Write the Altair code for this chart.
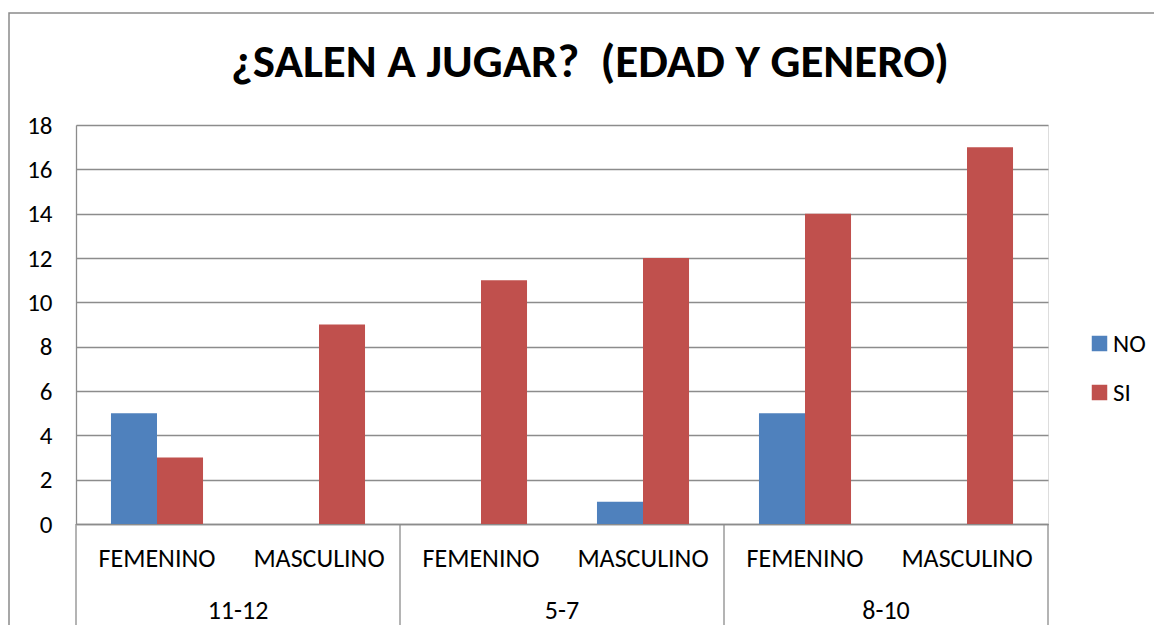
import altair as alt
import pandas as pd

ages = ["11-12", "5-7", "8-10"]
genders = ["FEMENINO", "MASCULINO"]
series = ["NO", "SI"]
no_values = [5, 0, 0, 1, 5, 0]
si_values = [3, 9, 11, 12, 14, 17]
y_ticks = [0, 2, 4, 6, 8, 10, 12, 14, 16, 18]
colors = ["#4F81BD", "#C0504D"]
title_text = "¿SALEN A JUGAR?\u00a0 (EDAD Y GENERO)"

FONT = "Carlito, Lato, sans-serif"
GRID = "#8c8c8c"
W, H = 972, 399

keys = [f"{a}|{g}" for a in ages for g in genders]
rows = []
for i, k in enumerate(keys):
    a, g = k.split("|")
    rows.append({"key": k, "age": a, "gender": g, "serie": "NO", "value": no_values[i]})
    rows.append({"key": k, "age": a, "gender": g, "serie": "SI", "value": si_values[i]})
df = pd.DataFrame(rows)

xscale = alt.Scale(domain=keys, paddingInner=0, paddingOuter=0)

bars = alt.Chart(df).mark_bar(stroke=None).encode(
    x=alt.X("key:N", scale=xscale, sort=keys,
            axis=alt.Axis(labels=False, ticks=False, title=None, domainColor=GRID, domainWidth=1.3)),
    xOffset=alt.XOffset("serie:N", sort=series,
                        scale=alt.Scale(domain=series, paddingInner=0, paddingOuter=0.76)),
    y=alt.Y("value:Q", scale=alt.Scale(domain=[0, 18], nice=False),
            axis=alt.Axis(values=y_ticks, title=None, ticks=False, grid=True,
                          gridColor=GRID, gridWidth=1.3, domainColor=GRID, domainWidth=1.3,
                          labelFont=FONT, labelFontSize=25, labelColor="#000000",
                          labelPadding=24)),
    color=alt.Color("serie:N", scale=alt.Scale(domain=series, range=colors),
                    legend=alt.Legend(title=None, orient="none", legendX=1011, legendY=206,
                                      symbolType="square", symbolSize=240, symbolStrokeWidth=0,
                                      labelFont=FONT, labelFontSize=25, labelColor="#000000",
                                      rowPadding=23, labelOffset=1)),
)

gdf = pd.DataFrame({"key": keys, "gender": [k.split("|")[1] for k in keys]})
gender_text = alt.Chart(gdf).mark_text(font=FONT, fontSize=26, baseline="middle", color="#000000").encode(
    x=alt.X("key:N", scale=xscale, sort=keys),
    y=alt.value(H + 35),
    text="gender:N",
)

adf = pd.DataFrame({"key": [f"{a}|{genders[1]}" for a in ages], "age": ages})
age_text = alt.Chart(adf).mark_text(font=FONT, fontSize=26, baseline="middle", color="#000000").encode(
    x=alt.X("key:N", scale=xscale, sort=keys, bandPosition=0),
    y=alt.value(H + 87),
    text="age:N",
)

sdf = pd.DataFrame({"key": [f"{a}|{genders[0]}" for a in ages]})
seps = alt.Chart(sdf).mark_rule(color=GRID, strokeWidth=1.3).encode(
    x=alt.X("key:N", scale=xscale, sort=keys, bandPosition=0),
    y=alt.value(H),
    y2=alt.value(H + 120),
)
edf = pd.DataFrame({"key": [keys[-1]]})
sep_end = alt.Chart(edf).mark_rule(color=GRID, strokeWidth=1.3).encode(
    x=alt.X("key:N", scale=xscale, sort=keys, bandPosition=1),
    y=alt.value(H),
    y2=alt.value(H + 120),
)

frame = alt.Chart(pd.DataFrame({"f": [0]})).mark_rect(
    fill="transparent", stroke="#8a8a8a", strokeWidth=1.5
).encode(
    x=alt.value(-67), x2=alt.value(W + 300),
    y=alt.value(-112), y2=alt.value(H + 300),
)

chart = alt.layer(frame, bars, seps, sep_end, gender_text, age_text).properties(
    width=W, height=H,
    autosize=alt.AutoSizeParams(type="none"),
    padding={"left": 68, "top": 117, "right": 106, "bottom": 101},
    title=alt.TitleParams(title_text, font=FONT, fontSize=47, fontWeight="bold",
                          color="#000000", anchor="middle", dx=28, offset=-112,
                          baseline="alphabetic"),
).configure_view(stroke=None).configure(background="white")

chart.save("out.html", embed_options={"renderer": "svg", "actions": False})
